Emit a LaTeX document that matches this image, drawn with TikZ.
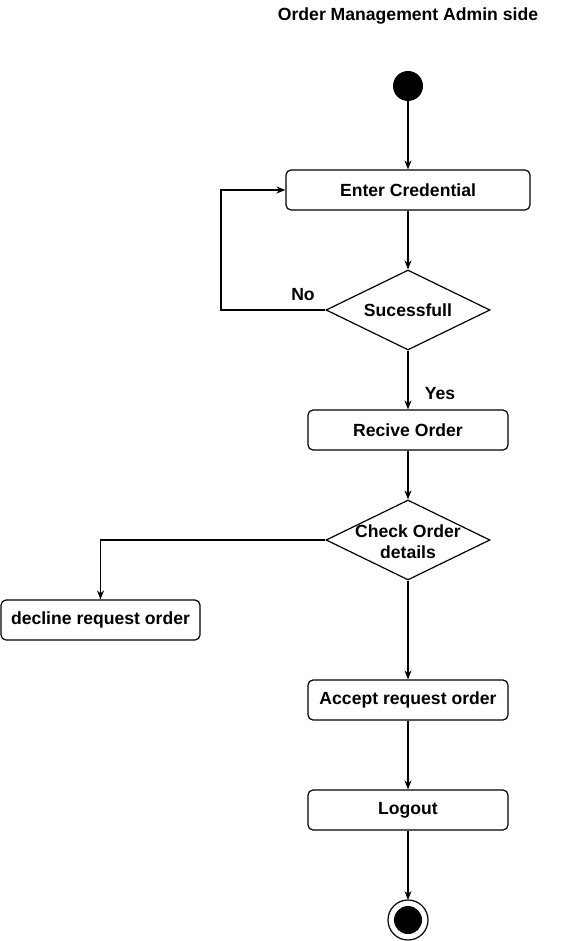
\documentclass[tikz,border=0pt]{standalone}
\usepackage{fontspec}
\setmainfont{Liberation Sans}
\usetikzlibrary{shapes.geometric,arrows.meta}

\newcommand{\labelfont}{\fontsize{17.6}{21}\selectfont\bfseries}

\tikzset{
    stepbox/.style={draw, line width=1.2pt, rounded corners=5pt, minimum height=40pt, font=\labelfont, inner sep=2pt},
    choice/.style={draw, line width=1.2pt, diamond, minimum width=164pt, minimum height=80pt, aspect=2.05, inner sep=-6pt, font=\labelfont, align=center},
    flow/.style={line width=1.2pt, -{Stealth[length=9pt,width=7pt]}},
}

\begin{document}
\begin{tikzpicture}[x=1pt, y=-1pt]
            \begin{scope}
                \useasboundingbox (0, 0) rectangle (583, 941);

                \node [font=\labelfont] (title) at (408, 16) {Order Management Admin side};

                \fill [color=black] (408, 86) circle (15);
                \coordinate (start) at (408, 101);

                \node [stepbox, minimum width=244pt] (cred) at (408, 190) {Enter Credential};
                \node [choice] (ok) at (408, 310) {Sucessfull};
                \node [stepbox, minimum width=200pt] (recv) at (408, 430) {Recive Order};
                \node [choice] (check) at (408, 540) {\raisebox{-4pt}[\height][\depth]{\begin{tabular}{@{}c@{}}Check Order\\details\end{tabular}}};
                \node [stepbox, minimum width=199pt] (decline) at (100.5, 620) {decline request order};
                \node [stepbox, minimum width=200pt] (accept) at (408, 700) {Accept request order};
                \node [stepbox, minimum width=200pt] (logout) at (408, 810) {Logout};

                \draw [line width=1.2pt] (408, 920) circle (20);
                \fill [color=black] (408, 920) circle (14);
                \coordinate (end) at (408, 900);

                \draw [flow] (start) -- (cred);
                \draw [flow] (cred) -- (ok);
                \draw [flow] (ok.west) -- (221, 310) |- (cred.west);
                \node [font=\labelfont] (no) at (303, 295) {No};
                \draw [flow] (ok) -- (recv);
                \node [font=\labelfont] (yes) at (440, 394) {Yes};
                \draw [flow] (recv) -- (check);
                \draw [flow] (check.west) -| (decline.north);
                \draw [flow] (check) -- (accept);
                \draw [flow] (accept) -- (logout);
                \draw [flow] (logout) -- (end);

            \end{scope}
        \end{tikzpicture}
\end{document}
